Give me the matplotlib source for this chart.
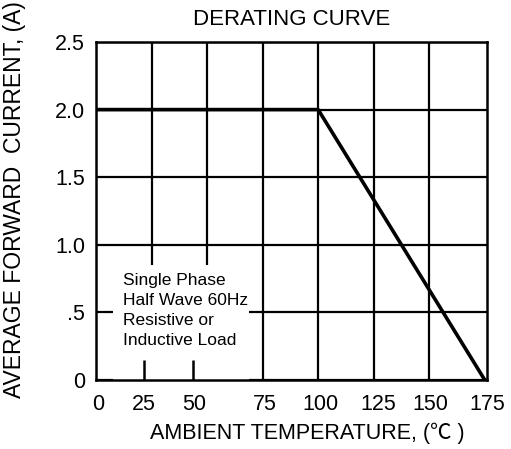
import matplotlib.pyplot as plt
from matplotlib.patches import Rectangle

plt.rcParams['font.family'] = ['Liberation Sans', 'Noto Sans CJK SC', 'DejaVu Sans']

# derating curve data
temp = [0, 100, 175]
current = [2.0, 2.0, 0.0]

x_grid = [25, 50, 75, 100, 125, 150]
y_grid = [0, 0.5, 1.0, 1.5, 2.0, 2.5]
y_labels = ['0', '.5', '1.0', '1.5', '2.0', '2.5']
# labels in the original are printed a little off the grid lines
x_label_pos = [1, 21.5, 44, 76, 101, 127, 150.5, 176]
x_labels = ['0', '25', '50', '75', '100', '125', '150', '175']
stub_pos = [21.5, 43.5]

note = 'Single Phase\nHalf Wave 60Hz\nResistive or\nInductive Load'

fig = plt.figure(figsize=(5.11, 4.49), dpi=100)
ax = fig.add_axes([96/511, 69/449, 391/511, 338/449])

ax.plot(temp, current, color='black', lw=2.6, zorder=3, solid_capstyle='butt')

ax.set_xlim(0, 175)
ax.set_ylim(0, 2.5)
ax.set_xticks(x_grid)
ax.set_xticklabels([])
ax.set_xticks(x_label_pos, minor=True)
ax.set_xticklabels(x_labels, minor=True)
ax.set_yticks(y_grid)
ax.set_yticklabels(y_labels)
ax.tick_params(axis='x', which='both', length=0, labelsize=15.5, pad=10)
ax.tick_params(axis='y', length=0, labelsize=15.5, pad=8)

ax.grid(True, color='black', lw=1.6)
ax.set_axisbelow(True)
for s in ax.spines.values():
    s.set_linewidth(1.8)

# white patch behind the note hides the grid
ax.add_patch(Rectangle((7.5, 0), 61.5, 0.85, facecolor='white', edgecolor='none', zorder=1.5))
ax.vlines(stub_pos, 0, 0.15, color='black', lw=1.8, zorder=2)
ax.text(12, 0.79, note, fontsize=12.5, va='top', ha='left', linespacing=1.42, zorder=2)

ax.set_title('DERATING CURVE', fontsize=16, pad=12)
ax.set_xlabel('AMBIENT TEMPERATURE, (\u2103 )', fontsize=15.5)
ax.xaxis.set_label_coords(0.54, -0.125)
ax.set_ylabel('AVERAGE FORWARD  CURRENT, (A)', fontsize=16.5)
ax.yaxis.set_label_coords(-0.18, 0.535)

fig.savefig('out.png', dpi=100)
